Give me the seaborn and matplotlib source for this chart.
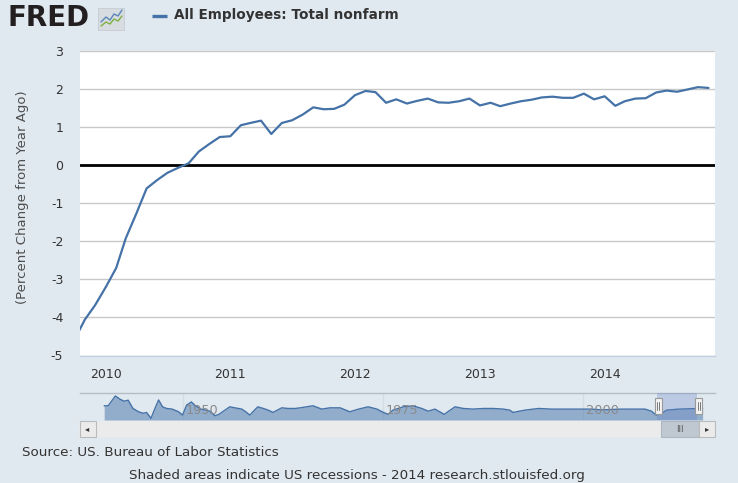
import matplotlib
matplotlib.use("Agg")
import numpy as np
import pandas as pd
import matplotlib.pyplot as plt
import matplotlib.dates as mdates
from matplotlib.patches import Rectangle
import seaborn as sns

# monthly percent change from year ago, All Employees: Total nonfarm
months = pd.date_range("2009-10-01", "2014-11-01", freq="MS")
pct_change = [
    -4.60, -4.06, -3.68,
    -3.21, -2.70, -1.92, -1.27, -0.61, -0.39, -0.20, -0.07, 0.05, 0.36, 0.56, 0.74,
    0.76, 1.05, 1.11, 1.17, 0.82, 1.11, 1.18, 1.33, 1.52, 1.47, 1.48, 1.59,
    1.84, 1.95, 1.92, 1.64, 1.73, 1.62, 1.69, 1.75, 1.65, 1.64, 1.68, 1.75,
    1.57, 1.64, 1.55, 1.62, 1.68, 1.72, 1.78, 1.80, 1.77, 1.77, 1.88, 1.73,
    1.81, 1.56, 1.68, 1.75, 1.76, 1.91, 1.96, 1.93, 1.99, 2.05, 2.03,
]
year_ticks = ["2010", "2011", "2012", "2013", "2014"]
y_ticks = [-5, -4, -3, -2, -1, 0, 1, 2, 3]

# navigator: whole history, read roughly off the small overview strip
nav_years = [
    1940.1, 1940.6, 1941.5, 1942.1, 1942.6, 1943.1, 1943.7, 1944.4, 1945.0, 1945.4,
    1945.95, 1946.45, 1946.9, 1947.4, 1947.9, 1948.6, 1949.4, 1949.9, 1950.4, 1951.0,
    1951.5, 1952.2, 1952.8, 1953.3, 1953.95, 1954.45, 1955.2, 1955.8, 1956.45, 1957.3,
    1957.8, 1958.3, 1959.3, 1960.0, 1960.6, 1961.2, 1962.3, 1963.1, 1963.95, 1964.6,
    1966.2, 1967.3, 1968.3, 1969.6, 1970.8, 1971.9, 1973.1, 1974.2, 1975.0, 1975.6,
    1976.2, 1977.5, 1978.7, 1979.8, 1980.6, 1981.45, 1982.6, 1983.95, 1985.0, 1986.2,
    1987.5, 1988.7, 1990.0, 1990.8, 1991.2, 1992.7, 1994.4, 1996.0, 1997.7, 1999.4,
    2001.0, 2002.3, 2003.5, 2004.8, 2006.0, 2007.7, 2008.5, 2009.1, 2009.8, 2010.4,
    2011.9, 2014.4, 2014.9,
]
nav_values = [
    3.8, 3.8, 11.5, 8.9, 7.4, 8.2, 1.7, -0.9, -2.1, -1.4,
    -6.0, 1.7, 8.4, 3.0, 1.7, 1.2, -0.9, -3.5, 4.3, 6.8,
    3.8, 1.2, 0.4, -0.4, -4.0, -2.9, 0.4, 3.0, 2.2, 1.2,
    -0.9, -3.5, 3.0, 1.7, 0.4, -1.4, 2.2, 1.7, 1.7, 2.2,
    3.8, 1.2, 2.2, 2.2, -0.9, 1.2, 3.0, 1.2, -1.4, -2.9,
    0.4, 3.0, 3.8, 1.7, -0.4, 1.2, -2.9, 3.0, 1.7, 1.2,
    1.7, 1.7, 1.2, 0.4, -1.4, 0.4, 1.7, 1.2, 1.2, 1.2,
    1.2, 0.6, 0.9, 1.2, 1.2, 1.2, -0.4, -3.5, -2.1, 0.4,
    1.2, 1.7, 1.8,
]
nav_labels = [1950, 1975, 2000]

BG = "#E1E9F0"
BLUE = "#4572A7"
W, H = 738, 483

sns.set_style("white")
plt.rcParams["font.family"] = ["DejaVu Sans"]

fig = plt.figure(figsize=(W / 100, H / 100), dpi=100, facecolor=BG)


def px_axes(left, top, right, bottom):
    return fig.add_axes([left / W, 1 - bottom / H, (right - left) / W, (bottom - top) / H])


# main chart
ax = px_axes(80, 51, 715, 355.5)
ax.set_facecolor("white")
sns.lineplot(x=months, y=pct_change, ax=ax, color=BLUE, linewidth=1.6, zorder=3)
ax.axhline(0, color="black", linewidth=2, zorder=2)
ax.set_ylim(-5, 3)
ax.set_yticks(y_ticks)
ax.set_yticklabels([str(v) for v in y_ticks])
ax.yaxis.grid(True, color="#C8C8C8", linewidth=1)
ax.set_xlim(pd.Timestamp("2009-10-18"), pd.Timestamp("2014-11-20"))
ax.set_xticks([pd.Timestamp(y + "-01-01") for y in year_ticks])
ax.set_xticklabels(year_ticks)
ax.set_xlabel("")
ax.set_ylabel("")
for s in ["top", "left", "right"]:
    ax.spines[s].set_visible(False)
ax.spines["bottom"].set_color("#C0D0E0")
ax.spines["bottom"].set_linewidth(1)
ax.tick_params(axis="x", direction="out", length=5, width=1, color="#C0D0E0",
               labelcolor="#333333", labelsize=9, pad=4)
ax.tick_params(axis="y", length=0, labelcolor="#333333", labelsize=9, pad=12)

fig.text(23 / W, 1 - 197 / H, "(Percent Change from Year Ago)", rotation=90,
         ha="center", va="center", fontsize=9.5, color="#4D4D4D")

# navigator strip
nav = px_axes(80, 393.3, 715, 420)
nav.set_facecolor("none")
nav_lo, nav_hi = -7.34, 13.6
nav.fill_between(nav_years, nav_values, nav_lo, color=BLUE, alpha=0.5, linewidth=0, zorder=2)
sns.lineplot(x=nav_years, y=nav_values, ax=nav, color=BLUE, linewidth=1, zorder=3)
nav.axvspan(2009.15, 2014.25, color=(102 / 255, 133 / 255, 194 / 255, 0.3), linewidth=0, zorder=4)
nav.set_xlim(1937.08, 2016.45)
nav.set_ylim(nav_lo, nav_hi)
for yr in nav_labels:
    nav.axvline(yr, color="#D3DCE5", linewidth=1, zorder=1)
    nav.text(yr + 0.3, 0.4, str(yr), color="#8A8A8A", fontsize=9.3, va="center", ha="left",
             zorder=5)
nav.set_xticks([])
nav.set_yticks([])
nav.set_xlabel("")
nav.set_ylabel("")
for s in ["left", "right", "bottom"]:
    nav.spines[s].set_visible(False)
nav.spines["top"].set_color("#B4BCC4")
nav.spines["top"].set_linewidth(1)

# decorations drawn in pixel coordinates: logo, legend, scrollbar, handles
deco = fig.add_axes([0, 0, 1, 1], zorder=10)
deco.set_xlim(0, W)
deco.set_ylim(H, 0)
deco.axis("off")
deco.patch.set_alpha(0)

deco.text(8, 18, "FRED", fontsize=20, fontweight="heavy", color="#231F20",
          ha="left", va="center")
deco.add_patch(Rectangle((98, 8), 26, 22, facecolor="#D7DCE0", edgecolor="#C6CCD1",
                         linewidth=0.6))
logo_x = [101, 106, 110, 114, 118, 122]
deco.plot(logo_x, [22, 17, 20, 14, 16, 10], color="#5B86B8", linewidth=1)
deco.plot(logo_x, [26, 22, 24, 19, 21, 16], color="#7FAF45", linewidth=1)

deco.plot([152, 167], [15.5, 15.5], color=BLUE, linewidth=2.4, solid_capstyle="butt")
deco.text(174, 15.5, "All Employees: Total nonfarm", fontsize=9.8, fontweight="bold",
          color="#333333", ha="left", va="center")

# scrollbar
deco.add_patch(Rectangle((79, 420.5), 636, 16.5, facecolor="#EBEBEB", edgecolor="none"))
deco.add_patch(Rectangle((79.5, 421), 16, 15.5, facecolor="#EBEBEB", edgecolor="#BBBBBB",
                         linewidth=0.8))
deco.text(87.5, 429, "◂", fontsize=6, color="#333333", ha="center", va="center")
deco.add_patch(Rectangle((660.5, 421), 38.5, 15.5, facecolor="#BFC8D1", edgecolor="#AEB6BF",
                         linewidth=0.8))
deco.text(679.5, 429, "III", fontsize=6, color="#555555", ha="center", va="center")
deco.add_patch(Rectangle((699, 421), 15.5, 15.5, facecolor="#EBEBEB", edgecolor="#BBBBBB",
                         linewidth=0.8))
deco.text(707, 429, "▸", fontsize=6, color="#333333", ha="center", va="center")

for hx in [658.3, 698.7]:
    deco.add_patch(Rectangle((hx - 3.5, 398), 7, 16, facecolor="#F2F2F2", edgecolor="#999999",
                             linewidth=0.8))
    deco.plot([hx - 1, hx - 1], [402, 410], color="#666666", linewidth=0.6)
    deco.plot([hx + 1, hx + 1], [402, 410], color="#666666", linewidth=0.6)

fig.text(22 / W, 1 - 452 / H, "Source: US. Bureau of Labor Statistics", fontsize=9.7,
         color="#333333", ha="left", va="center")
fig.text(357 / W, 1 - 476 / H,
         "Shaded areas indicate US recessions - 2014 research.stlouisfed.org",
         fontsize=9.7, color="#333333", ha="center", va="center")

fig.savefig("out.png", dpi=100, facecolor=BG)
